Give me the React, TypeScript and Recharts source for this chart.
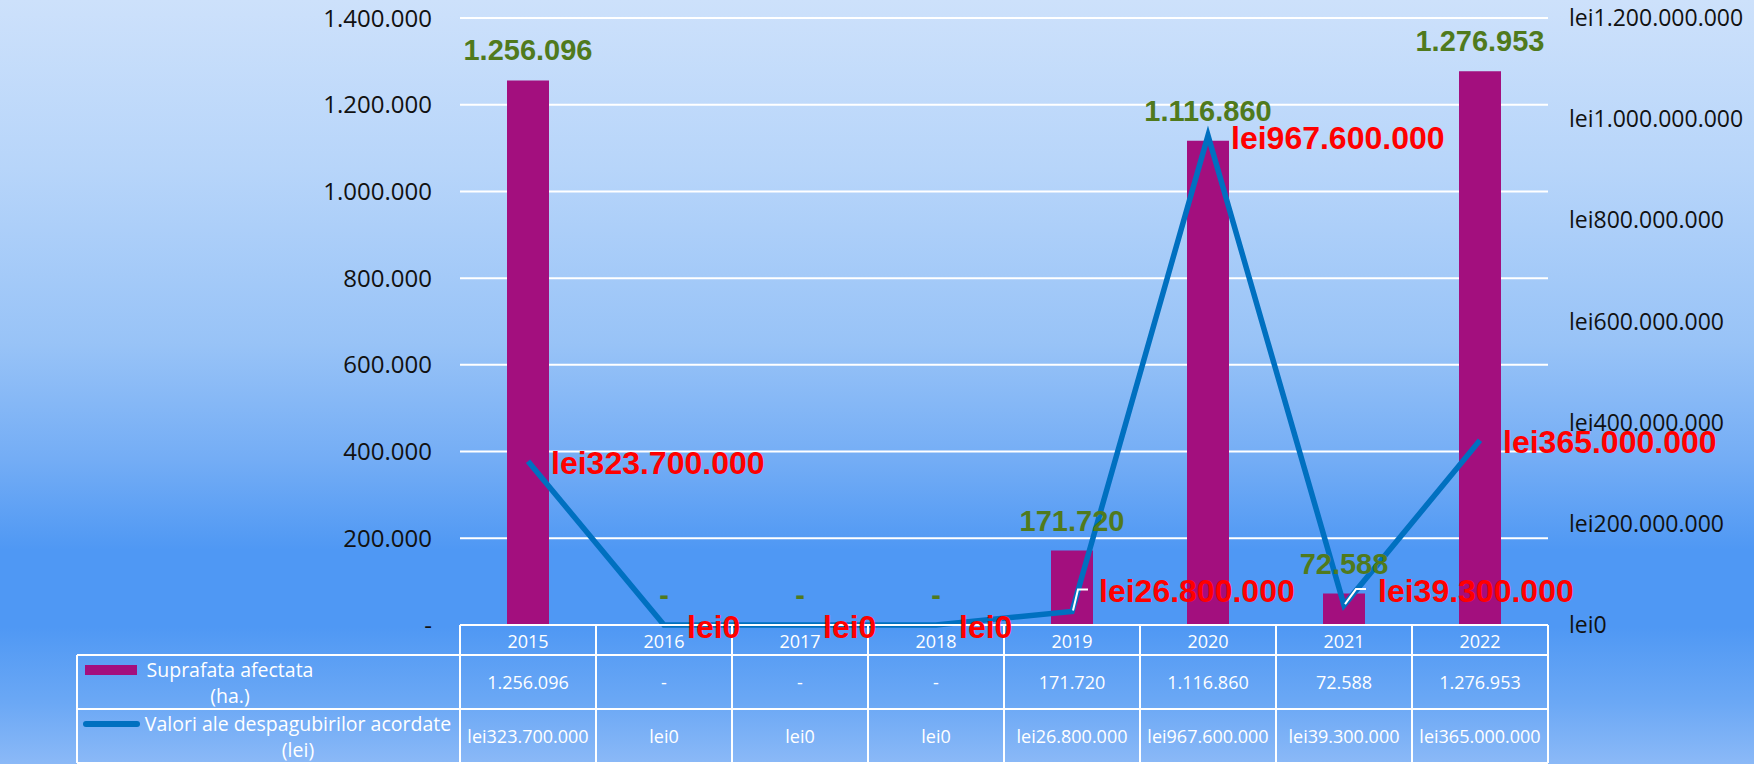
import React from 'react';
import {
  ComposedChart, Bar, Line, XAxis, YAxis, CartesianGrid, LabelList,
} from 'recharts';

const years = ['2015', '2016', '2017', '2018', '2019', '2020', '2021', '2022'];
const areaHa = [1256096, 0, 0, 0, 171720, 1116860, 72588, 1276953];
const compensationLei = [323700000, 0, 0, 0, 26800000, 967600000, 39300000, 365000000];
const leftTicks = [0, 200000, 400000, 600000, 800000, 1000000, 1200000, 1400000];
const rightTicks = [0, 200000000, 400000000, 600000000, 800000000, 1000000000, 1200000000];
const seriesNames = ['Suprafata afectata', '(ha.)', 'Valori ale despagubirilor acordate', '(lei)'];

const data = years.map((y, i) => ({ year: y, area: areaHa[i], value: compensationLei[i] }));

const W = 1754;
const H = 764;
const PLOT_LEFT = 460;
const PLOT_RIGHT = 1548;
const BAND = (PLOT_RIGHT - PLOT_LEFT) / years.length;

const dots = (n: number) => String(Math.round(n)).replace(/\B(?=(\d{3})+(?!\d))/g, '.');
const fmtArea = (n: number) => (n === 0 ? '-' : dots(n));
const fmtLei = (n: number) => 'lei' + dots(n);

const TICK_FONT = '"Open Sans", sans-serif';
const LABEL_FONT = '"Liberation Sans", Arial, sans-serif';
const BAR_COLOR = '#A30F7E';
const LINE_COLOR = '#0070C0';
const GREEN = '#507A1D';

const GreenLabel = ({ x, y, value }: { x: number; y: number; value: number }) => (
  <text
    x={x}
    y={y}
    textAnchor="middle"
    fill={GREEN}
    fontFamily={LABEL_FONT}
    fontWeight="bold"
    fontSize={29}
  >
    {fmtArea(value)}
  </text>
);

const TableTick = (props: any) => {
  const { x, y, payload } = props;
  const i = payload.index;
  const top = y;
  const l = x - BAND / 2;
  const r = x + BAND / 2;
  const r1 = top + 30;
  const r2 = top + 84;
  const r3 = top + 138;
  const ln = { stroke: '#ffffff', strokeWidth: 2 };
  const txt = { fill: '#ffffff', fontFamily: TICK_FONT, fontSize: 18, textAnchor: 'middle' as const, dominantBaseline: 'central' as const };
  const leg = { ...txt, fontSize: 19.5 };
  return (
    <g>
      {areaHa[i] === 0 && <GreenLabel x={x} y={top - 20} value={0} />}
      <line x1={l} x2={r} y1={top} y2={top} {...ln} />
      <line x1={l} x2={r} y1={r1} y2={r1} {...ln} />
      <line x1={l} x2={r} y1={r2} y2={r2} {...ln} />
      <line x1={l} x2={r} y1={r3} y2={r3} {...ln} />
      <line x1={l} x2={l} y1={top} y2={r3} {...ln} />
      <line x1={r} x2={r} y1={top} y2={r3} {...ln} />
      <text x={x} y={top + 16} {...txt}>{payload.value}</text>
      <text x={x} y={r1 + 27} {...txt}>{fmtArea(areaHa[i])}</text>
      <text x={x} y={r2 + 27} {...txt}>{fmtLei(compensationLei[i])}</text>
      {i === 0 && (
        <g>
          <line x1={77} x2={l} y1={r1} y2={r1} {...ln} />
          <line x1={77} x2={l} y1={r2} y2={r2} {...ln} />
          <line x1={77} x2={l} y1={r3} y2={r3} {...ln} />
          <line x1={77} x2={77} y1={r1} y2={r3} {...ln} />
          <rect x={85} y={r1 + 10} width={52} height={10} fill={BAR_COLOR} />
          <text x={230} y={r1 + 14} {...leg}>{seriesNames[0]}</text>
          <text x={230} y={r1 + 40} {...leg}>{seriesNames[1]}</text>
          <line x1={86} x2={137} y1={r2 + 15} y2={r2 + 15} stroke={LINE_COLOR} strokeWidth={6} strokeLinecap="round" />
          <text x={298} y={r2 + 14} {...leg}>{seriesNames[2]}</text>
          <text x={298} y={r2 + 40} {...leg}>{seriesNames[3]}</text>
        </g>
      )}
    </g>
  );
};

const BarLabel = (props: any) => {
  const { x, y, width, value } = props;
  return <GreenLabel x={x + width / 2} y={y - 20} value={value} />;
};

const LEADERS: Record<number, { lift: number; dx: number; tx: number }> = {
  4: { lift: 22, dx: 6, tx: 27 },
  6: { lift: 16, dx: 12, tx: 34 },
};

const LineLabel = (props: any) => {
  const { x, y, value, index } = props;
  const lead = LEADERS[index];
  const ly = lead ? y - lead.lift : y;
  const tx = lead ? lead.tx : 23;
  return (
    <g>
      {lead && (
        <polyline
          points={`${x + 1},${y - 1} ${x + lead.dx},${ly} ${x + lead.dx + 10},${ly}`}
          fill="none"
          stroke="#ffffff"
          strokeWidth={2}
        />
      )}
      <text
        x={x + tx}
        y={ly + 2}
        dominantBaseline="central"
        fill="#FF0000"
        fontFamily={LABEL_FONT}
        fontWeight="bold"
        fontSize={32}
      >
        {fmtLei(value)}
      </text>
    </g>
  );
};

export default function App() {
  return (
    <div
      style={{
        position: 'fixed',
        left: 0,
        top: 0,
        width: W,
        height: H,
        background:
          'linear-gradient(to bottom, #CDE1FB 0%, #B7D5FA 22%, #98C3F7 45%, #74ADF5 60%, #4F98F4 72%, #4F98F4 82%, #6BA8F5 92%, #8BB9F7 100%)',
      }}
    >
      <ComposedChart
        width={W}
        height={H}
        data={data}
        margin={{ top: 18, right: 16, bottom: 0, left: 0 }}
      >
        <CartesianGrid yAxisId="left" vertical={false} stroke="#ffffff" strokeWidth={2} />
        <XAxis
          dataKey="year"
          height={139}
          axisLine={false}
          tickLine={false}
          tickSize={0}
          tickMargin={0}
          interval={0}
          tick={<TableTick />}
        />
        <YAxis
          yAxisId="left"
          width={460}
          domain={[0, 1400000]}
          ticks={leftTicks}
          axisLine={false}
          tickLine={false}
          tickSize={0}
          tickMargin={28}
          tickFormatter={fmtArea}
          tick={{ fill: '#111111', fontFamily: TICK_FONT, fontSize: 24 }}
        />
        <YAxis
          yAxisId="right"
          orientation="right"
          width={190}
          domain={[0, 1200000000]}
          ticks={rightTicks}
          axisLine={false}
          tickLine={false}
          tickSize={0}
          tickMargin={21}
          tickFormatter={fmtLei}
          tick={{ fill: '#111111', fontFamily: TICK_FONT, fontSize: 23, textAnchor: 'start' }}
        />
        <Bar yAxisId="left" dataKey="area" fill={BAR_COLOR} barSize={42} isAnimationActive={false}>
          <LabelList dataKey="area" content={<BarLabel />} />
        </Bar>
        <Line
          yAxisId="right"
          dataKey="value"
          stroke={LINE_COLOR}
          strokeWidth={5.5}
          dot={false}
          activeDot={false}
          isAnimationActive={false}
        >
          <LabelList dataKey="value" content={<LineLabel />} />
        </Line>
      </ComposedChart>
    </div>
  );
}
